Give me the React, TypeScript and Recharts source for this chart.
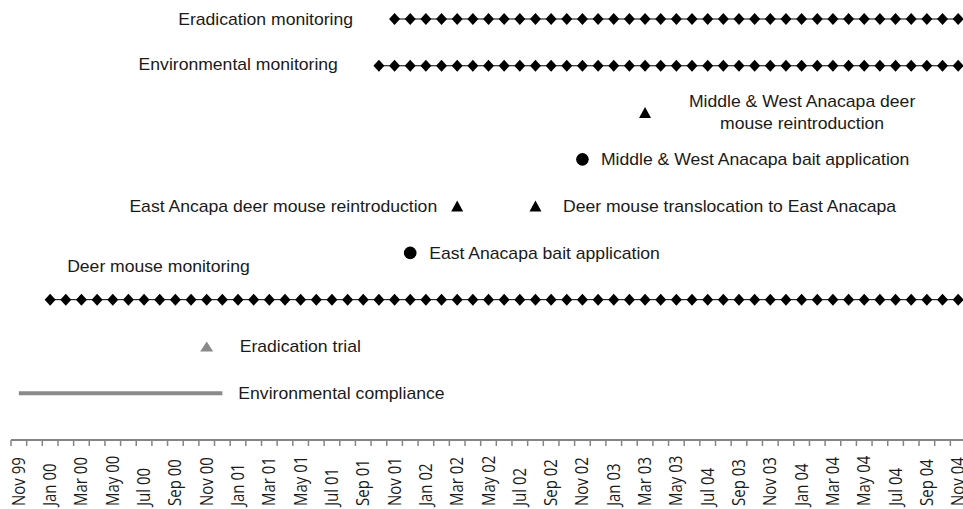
import React from 'react';
import { ScatterChart, Scatter, XAxis, YAxis } from 'recharts';

// ---- Data (month index: Nov 99 = 0, one step per month) ----
const tickLabels = [
  'Nov 99', 'Jan 00', 'Mar 00', 'May 00', 'Jul 00', 'Sep 00', 'Nov 00', 'Jan 01', 'Mar 01', 'May 01',
  'Jul 01', 'Sep 01', 'Nov 01', 'Jan 02', 'Mar 02', 'May 02', 'Jul 02', 'Sep 02', 'Nov 02', 'Jan 03',
  'Mar 03', 'May 03', 'Jul 04', 'Sep 03', 'Nov 03', 'Jan 04', 'Mar 04', 'May 04', 'Jul 04', 'Sep 04', 'Nov 04',
];

const eradicationMonitoringMonths = [
  24, 25, 26, 27, 28, 29, 30, 31, 32, 33, 34, 35, 36, 37, 38, 39, 40, 41, 42, 43, 44, 45, 46, 47, 48, 49,
  50, 51, 52, 53, 54, 55, 56, 57, 58, 59, 60,
];
const environmentalMonitoringMonths = [
  23, 24, 25, 26, 27, 28, 29, 30, 31, 32, 33, 34, 35, 36, 37, 38, 39, 40, 41, 42, 43, 44, 45, 46, 47, 48,
  49, 50, 51, 52, 53, 54, 55, 56, 57, 58, 59, 60,
];
const deerMouseMonitoringMonths = [
  2, 3, 4, 5, 6, 7, 8, 9, 10, 11, 12, 13, 14, 15, 16, 17, 18, 19, 20, 21, 22, 23, 24, 25, 26, 27, 28, 29,
  30, 31, 32, 33, 34, 35, 36, 37, 38, 39, 40, 41, 42, 43, 44, 45, 46, 47, 48, 49, 50, 51, 52, 53, 54, 55,
  56, 57, 58, 59, 60,
];
const environmentalComplianceMonths = [0, 13];
const eradicationTrialMonth = 12;
const eastBaitMonth = 25;
const eastReintroMonth = 28;
const translocationMonth = 33;
const midWestBaitMonth = 36;
const midWestReintroMonth = 40;

// Row levels (top = 9)
const rowEradicationMonitoring = 9;
const rowEnvironmentalMonitoring = 8;
const rowMidWestReintro = 7;
const rowMidWestBait = 6;
const rowEastReintro = 5;
const rowEastBait = 4;
const rowDeerMouseMonitoring = 3;
const rowEradicationTrial = 2;
const rowEnvironmentalCompliance = 1;

const toPoints = (months: number[], row: number) => months.map((m) => ({ x: m, y: row }));

// ---- Layout ----
const W = 980;
const H = 509;
const MARGIN = { top: 19, right: 14, bottom: 0, left: 11 };
const X_AXIS_H = 69;
const PLOT_W = W - MARGIN.left - MARGIN.right;
const UNIT = PLOT_W / 61;
const AXIS_Y = H - MARGIN.bottom - X_AXIS_H;
const monthTicks = Array.from({ length: 61 }, (_, i) => i);

const FONT = "'Liberation Sans', Arial, sans-serif";
const AXIS_COLOR = '#858585';
const GRAY = '#8a8a8a';

const Diamond = (p: any) => (
  <polygon
    points={`${p.cx},${p.cy - 6} ${p.cx + 5.5},${p.cy} ${p.cx},${p.cy + 6} ${p.cx - 5.5},${p.cy}`}
    fill="#000"
  />
);
const Triangle = (color: string, w: number, h: number) => (p: any) => (
  <polygon
    points={`${p.cx},${p.cy - h / 2} ${p.cx + w / 2},${p.cy + h / 2} ${p.cx - w / 2},${p.cy + h / 2}`}
    fill={color}
  />
);
const Dot = (p: any) => <circle cx={p.cx} cy={p.cy} r={6.3} fill="#000" />;
const Empty = () => <g />;

const Label = ({ x, y, anchor, lines }: { x: number; y: number; anchor: string; lines: string[] }) => (
  <g>
    {lines.map((t, i) => (
      <text
        key={i}
        transform={`translate(${x},${y + i * 22.5 + 5.7}) scale(1.1,1)`}
        textAnchor={anchor as any}
        fontFamily={FONT}
        fontSize={16}
        fill="#1a1a1a"
      >
        {t}
      </text>
    ))}
  </g>
);

// label shape factory: offsets relative to the anchor mark
const labelShape = (lines: string[], dx: number, dy: number, anchor: string) => (p: any) =>
  p.cx == null ? <g /> : <Label x={p.cx + dx} y={p.cy + dy} anchor={anchor} lines={lines} />;

const MonthTick = (props: any) => {
  const { x, payload } = props;
  const k = payload.value as number;
  const half = UNIT / 2;
  return (
    <g>
      <line x1={x - half} x2={x - half} y1={AXIS_Y} y2={AXIS_Y + 6} stroke={AXIS_COLOR} strokeWidth={1.5} />
      {k === 60 && (
        <line x1={x + half} x2={x + half} y1={AXIS_Y} y2={AXIS_Y + 6} stroke={AXIS_COLOR} strokeWidth={1.5} />
      )}
      {k % 2 === 0 && (
        <text
          transform={`translate(${x + 6},${506}) rotate(-90) scale(1,1.15)`}
          textAnchor="start"
          fontFamily="'Open Sans', sans-serif"
          fontSize={15}
          fill="#1a1a1a"
        >
          {tickLabels[k / 2]}
        </text>
      )}
    </g>
  );
};

export default function App() {
  return (
    <div style={{ position: 'absolute', left: 0, top: 0, width: 963, height: 509, overflow: 'hidden', background: '#fff' }}>
      <ScatterChart width={W} height={H} margin={MARGIN} style={{ overflow: 'visible' }}>
        <XAxis
          type="number"
          dataKey="x"
          domain={[-0.5, 60.5]}
          ticks={monthTicks}
          interval={0}
          tick={<MonthTick />}
          tickLine={false}
          tickSize={0}
          height={X_AXIS_H}
          axisLine={{ stroke: AXIS_COLOR, strokeWidth: 2 }}
        />
        <YAxis type="number" dataKey="y" domain={[0, 9]} hide />

        <Scatter
          data={toPoints(eradicationMonitoringMonths, rowEradicationMonitoring)}
          line={{ stroke: '#000', strokeWidth: 1 }}
          lineType="joint"
          shape={Diamond}
          isAnimationActive={false}
        />
        <Scatter
          data={toPoints(environmentalMonitoringMonths, rowEnvironmentalMonitoring)}
          line={{ stroke: '#000', strokeWidth: 1 }}
          lineType="joint"
          shape={Diamond}
          isAnimationActive={false}
        />
        <Scatter
          data={toPoints(deerMouseMonitoringMonths, rowDeerMouseMonitoring)}
          line={{ stroke: '#000', strokeWidth: 1 }}
          lineType="joint"
          shape={Diamond}
          isAnimationActive={false}
        />
        <Scatter
          data={toPoints(environmentalComplianceMonths, rowEnvironmentalCompliance)}
          line={{ stroke: GRAY, strokeWidth: 4 }}
          lineType="joint"
          shape={Empty}
          isAnimationActive={false}
        />
        <Scatter data={[{ x: eradicationTrialMonth, y: rowEradicationTrial }]} shape={Triangle(GRAY, 13, 10)} isAnimationActive={false} />
        <Scatter data={[{ x: eastBaitMonth, y: rowEastBait }]} shape={Dot} isAnimationActive={false} />
        <Scatter data={[{ x: eastReintroMonth, y: rowEastReintro }]} shape={Triangle('#000', 12, 11)} isAnimationActive={false} />
        <Scatter data={[{ x: translocationMonth, y: rowEastReintro }]} shape={Triangle('#000', 12, 11)} isAnimationActive={false} />
        <Scatter data={[{ x: midWestBaitMonth, y: rowMidWestBait }]} shape={Dot} isAnimationActive={false} />
        <Scatter data={[{ x: midWestReintroMonth, y: rowMidWestReintro }]} shape={Triangle('#000', 12, 11)} isAnimationActive={false} />

        {/* Text annotations anchored on their marks */}
        <Scatter data={[{ x: eradicationMonitoringMonths[0], y: rowEradicationMonitoring }]} shape={labelShape(['Eradication monitoring'], -41.5, 0, 'end')} isAnimationActive={false} />
        <Scatter data={[{ x: environmentalMonitoringMonths[0], y: rowEnvironmentalMonitoring }]} shape={labelShape(['Environmental monitoring'], -41, -1, 'end')} isAnimationActive={false} />
        <Scatter data={[{ x: midWestReintroMonth, y: rowMidWestReintro }]} shape={labelShape(['Middle & West Anacapa deer', 'mouse reintroduction'], 157, -11.5, 'middle')} isAnimationActive={false} />
        <Scatter data={[{ x: midWestBaitMonth, y: rowMidWestBait }]} shape={labelShape(['Middle & West Anacapa bait application'], 18.5, 0, 'start')} isAnimationActive={false} />
        <Scatter data={[{ x: eastReintroMonth, y: rowEastReintro }]} shape={labelShape(['East Ancapa deer mouse reintroduction'], -20, 0, 'end')} isAnimationActive={false} />
        <Scatter data={[{ x: translocationMonth, y: rowEastReintro }]} shape={labelShape(['Deer mouse translocation to East Anacapa'], 27.5, 0, 'start')} isAnimationActive={false} />
        <Scatter data={[{ x: eastBaitMonth, y: rowEastBait }]} shape={labelShape(['East Anacapa bait application'], 19, 0, 'start')} isAnimationActive={false} />
        <Scatter data={[{ x: deerMouseMonitoringMonths[0], y: rowDeerMouseMonitoring }]} shape={labelShape(['Deer mouse monitoring'], 17, -33, 'start')} isAnimationActive={false} />
        <Scatter data={[{ x: eradicationTrialMonth, y: rowEradicationTrial }]} shape={labelShape(['Eradication trial'], 33, 0, 'start')} isAnimationActive={false} />
        <Scatter data={[{ x: environmentalComplianceMonths[1], y: rowEnvironmentalCompliance }]} shape={labelShape(['Environmental compliance'], 16, 0, 'start')} isAnimationActive={false} />
      </ScatterChart>
    </div>
  );
}
